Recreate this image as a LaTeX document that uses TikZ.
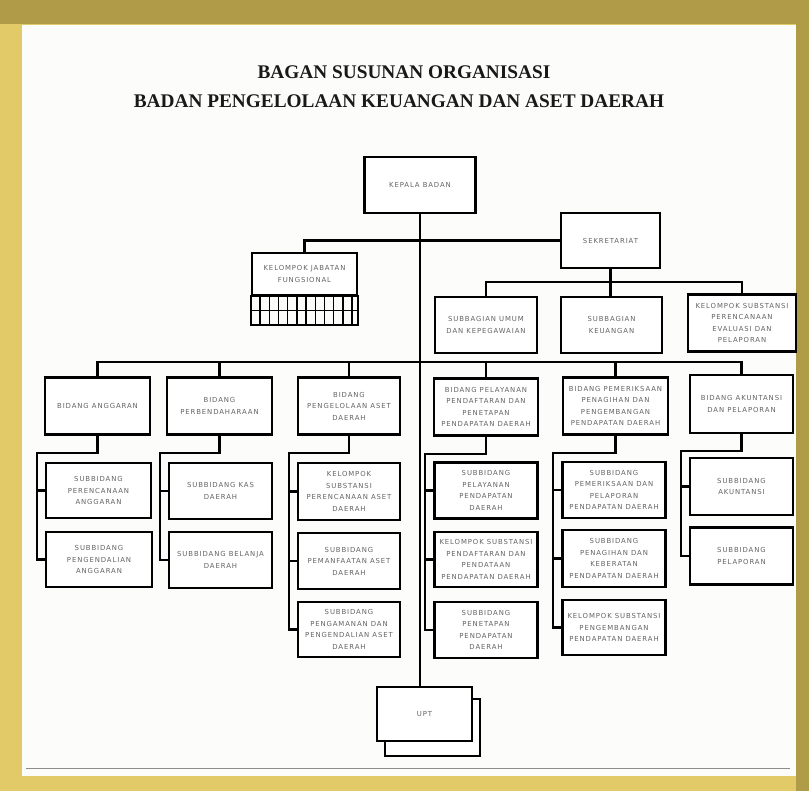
\documentclass[tikz,border=0pt]{standalone}
\usepackage{fontspec}
\setmainfont{Liberation Serif}
\newfontfamily\boxfont[LetterSpace=13]{DejaVu Sans}
\usetikzlibrary{calc}
\definecolor{framegold}{RGB}{226,202,104}
\definecolor{framedark}{RGB}{176,156,72}
\definecolor{paper}{RGB}{252,252,250}
\definecolor{boxtext}{RGB}{100,100,100}
\tikzset{
  box/.style={draw, line width=2.3pt, fill=white, align=center, inner sep=1pt,
    minimum width=104pt, minimum height=56pt, text=boxtext,
    font={\boxfont\fontsize{6.9}{11.5}\selectfont}},
  conn/.style={line width=2.2pt},
  titel/.style={font={\bfseries\fontsize{19.3}{22}\selectfont}, text=black!90},
}

\begin{document}
\begin{tikzpicture}[x=1pt, y=-1pt]
\useasboundingbox (0,0) rectangle (809,791);
% frame and paper
\fill[framegold] (0,0) rectangle (809,791);
\fill[framedark] (0,0) rectangle (809,24);
\fill[framedark] (796,0) rectangle (809,791);
\fill[paper] (22,25) rectangle (796,776);
\draw[black!45, line width=0.8pt] (26,768) -- (790,768);

\node[titel] (title1) at (404,72) {BAGAN SUSUNAN ORGANISASI};
\node[titel] (title2) at (399,101) {BADAN PENGELOLAAN KEUANGAN DAN ASET DAERAH};

% top level
\node[box, minimum width=111pt] (kepala) at (420,185) {KEPALA BADAN};
\node[box, minimum width=99pt, minimum height=55pt] (sekret) at (610.5,240.5) {SEKRETARIAT};
\node[box, minimum width=105pt, minimum height=42pt] (jabfung) at (304.5,274) {KELOMPOK JABATAN\\FUNGSIONAL};
\draw[line width=2.3pt] (jabfung.south west) rectangle ($(jabfung.south east)+(0,29)$);
\draw[line width=1pt] ($(jabfung.south west)+(0,14)$) -- ($(jabfung.south east)+(0,14)$);
\foreach \i in {0,...,10}
  \draw[line width=1.4pt] (260+9.2*\i,295) -- ++(0,29);

\node[box, minimum width=102pt] (subumum) at (486,325) {SUBBAGIAN UMUM\\DAN KEPEGAWAIAN};
\node[box, minimum width=101pt] (subkeu) at (611.5,325) {SUBBAGIAN\\KEUANGAN};
\node[box, minimum width=108pt, minimum height=57pt] (kelsub) at (742,323) {KELOMPOK SUBSTANSI\\PERENCANAAN\\EVALUASI DAN\\PELAPORAN};

% bidang
\node[box, minimum width=105pt, minimum height=57pt] (bang) at (97.5,406) {BIDANG ANGGARAN};
\node[box, minimum width=105pt, minimum height=57pt] (bperb) at (219.5,406) {BIDANG\\PERBENDAHARAAN};
\node[box, minimum width=102pt, minimum height=57pt] (baset) at (349,406) {BIDANG\\PENGELOLAAN ASET\\DAERAH};
\node[box, minimum width=104pt, minimum height=57pt] (bpel) at (486,407) {BIDANG PELAYANAN\\PENDAFTARAN DAN\\PENETAPAN\\PENDAPATAN DAERAH};
\node[box, minimum width=105pt, minimum height=57pt] (bpem) at (615.5,406) {BIDANG PEMERIKSAAN\\PENAGIHAN DAN\\PENGEMBANGAN\\PENDAPATAN DAERAH};
\node[box, minimum width=103pt, minimum height=58pt] (bakun) at (741.5,404) {BIDANG AKUNTANSI\\DAN PELAPORAN};

% subbidang
\node[box, minimum width=105pt, minimum height=55pt] (sa1) at (98.5,490.5) {SUBBIDANG\\PERENCANAAN\\ANGGARAN};
\node[box, minimum width=106pt, minimum height=55pt] (sa2) at (99,559.5) {SUBBIDANG\\PENGENDALIAN\\ANGGARAN};
\node[box, minimum width=103pt] (sp1) at (220.5,491) {SUBBIDANG KAS\\DAERAH};
\node[box, minimum width=103pt] (sp2) at (220.5,560) {SUBBIDANG BELANJA\\DAERAH};
\node[box, minimum width=102pt, minimum height=57pt] (ss1) at (349,491.5) {KELOMPOK\\SUBSTANSI\\PERENCANAAN ASET\\DAERAH};
\node[box, minimum width=102pt] (ss2) at (349,561) {SUBBIDANG\\PEMANFAATAN ASET\\DAERAH};
\node[box, minimum width=102pt, minimum height=55pt] (ss3) at (349,629.5) {SUBBIDANG\\PENGAMANAN DAN\\PENGENDALIAN ASET\\DAERAH};
\node[box, minimum width=103pt] (sl1) at (486,490.5) {SUBBIDANG\\PELAYANAN\\PENDAPATAN\\DAERAH};
\node[box, minimum width=103pt, minimum height=55pt] (sl2) at (486,559.5) {KELOMPOK SUBSTANSI\\PENDAFTARAN DAN\\PENDATAAN\\PENDAPATAN DAERAH};
\node[box, minimum width=103pt] (sl3) at (486,630) {SUBBIDANG\\PENETAPAN\\PENDAPATAN\\DAERAH};
\node[box, minimum width=103pt] (sm1) at (614,490) {SUBBIDANG\\PEMERIKSAAN DAN\\PELAPORAN\\PENDAPATAN DAERAH};
\node[box, minimum width=103pt, minimum height=57pt] (sm2) at (614,558.5) {SUBBIDANG\\PENAGIHAN DAN\\KEBERATAN\\PENDAPATAN DAERAH};
\node[box, minimum width=103pt, minimum height=55pt] (sm3) at (614,627.5) {KELOMPOK SUBSTANSI\\PENGEMBANGAN\\PENDAPATAN DAERAH};
\node[box, minimum width=103pt, minimum height=57pt] (sk1) at (741.5,486.5) {SUBBIDANG\\AKUNTANSI};
\node[box, minimum width=103pt, minimum height=57pt] (sk2) at (741.5,556) {SUBBIDANG\\PELAPORAN};

% UPT
\node[box, minimum width=95pt, minimum height=57pt] (uptb) at (432.5,727.5) {};
\node[box, minimum width=95pt, minimum height=54pt] (upt) at (424.5,714) {UPT};

% connectors
\draw[conn] (kepala.south) -- (kepala.south |- upt.north);
\draw[conn] (jabfung.north) |- (sekret.west);
\draw[conn] (sekret.south) -- ++(0,13) coordinate (sekbus);
\draw[conn] (subumum.north) -- (subumum.north |- sekbus) -- (kelsub.north |- sekbus) -- (kelsub.north);
\draw[conn] (sekbus) -- (sekbus |- subkeu.north);
\coordinate (bus) at (420,362);
\draw[conn] (bang.north) -- (bang.north |- bus) -- (bakun.north |- bus) -- (bakun.north);
\foreach \b in {bperb,baset,bpel,bpem}
  \draw[conn] (\b.north) -- (\b.north |- bus);
\foreach \b/\s/\n in {bang/sa/2, bperb/sp/2, baset/ss/3, bpel/sl/3, bpem/sm/3, bakun/sk/2} {
  \draw[conn] (\b.south) -- ++(0,17) -| ($(\s\n.west)+(-8,0)$) -- (\s\n.west);
  \foreach \i in {1,...,\n}
    \draw[conn] (\s\i.west) -- ++(-8,0);
}
\end{tikzpicture}
\end{document}
